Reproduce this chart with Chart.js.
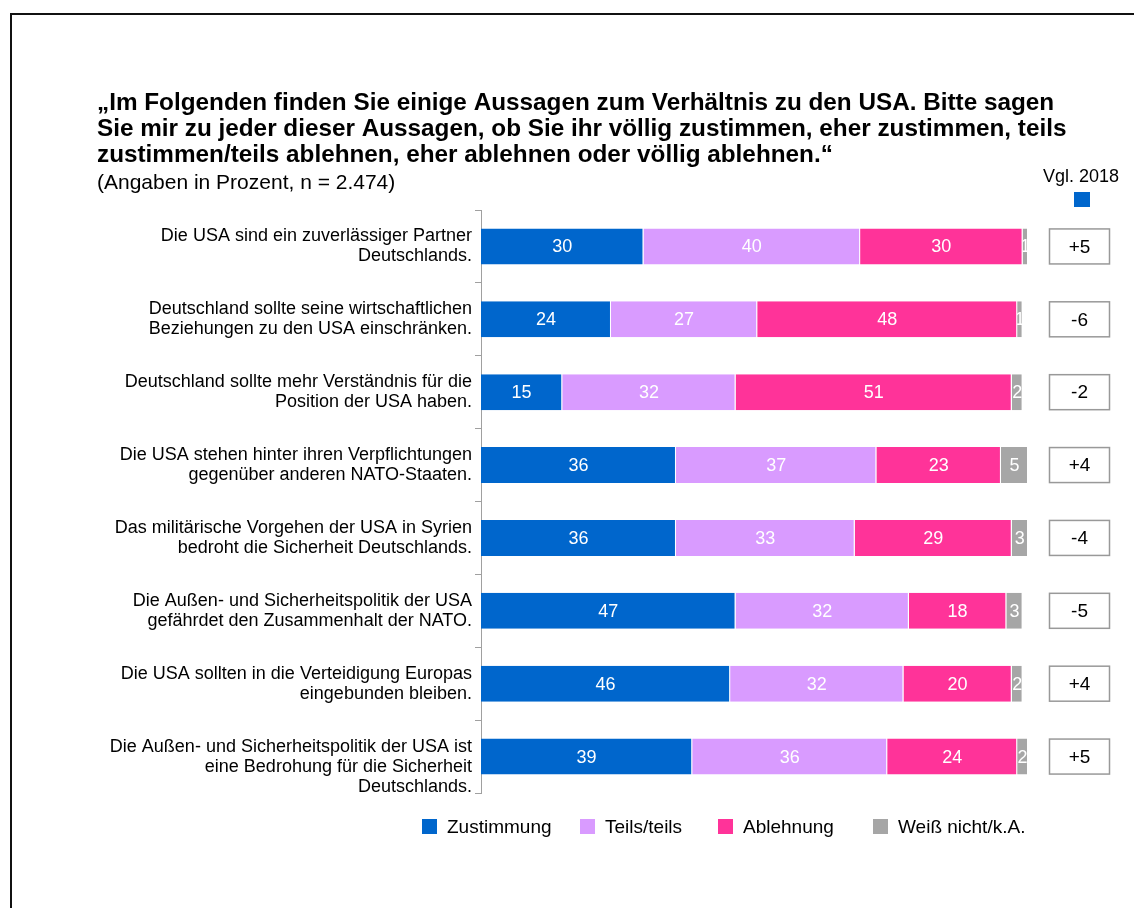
<!DOCTYPE html>
<html><head><meta charset="utf-8">
<script src="https://cdn.jsdelivr.net/npm/chart.js@4/dist/chart.umd.min.js"></script>
<style>html,body{margin:0;padding:0;background:#fff;overflow:hidden}canvas{display:block}</style>
</head><body>
<canvas id="c" width="1134" height="908"></canvas>
<script>
const categories = [
  ["Die USA sind ein zuverlässiger Partner", "Deutschlands."],
  ["Deutschland sollte seine wirtschaftlichen", "Beziehungen zu den USA einschränken."],
  ["Deutschland sollte mehr Verständnis für die", "Position der USA haben."],
  ["Die USA stehen hinter ihren Verpflichtungen", "gegenüber anderen NATO-Staaten."],
  ["Das militärische Vorgehen der USA in Syrien", "bedroht die Sicherheit Deutschlands."],
  ["Die Außen- und Sicherheitspolitik der USA", "gefährdet den Zusammenhalt der NATO."],
  ["Die USA sollten in die Verteidigung Europas", "eingebunden bleiben."],
  ["", "Die Außen- und Sicherheitspolitik der USA ist", "eine Bedrohung für die Sicherheit", "Deutschlands."]
];
const zustimmung = [30, 24, 15, 36, 36, 47, 46, 39];
const teilsTeils = [40, 27, 32, 37, 33, 32, 32, 36];
const ablehnung  = [30, 48, 51, 23, 29, 18, 20, 24];
const weissNicht = [1, 1, 2, 5, 3, 3, 2, 2];
const vgl2018 = ["+5", "-6", "-2", "+4", "-4", "-5", "+4", "+5"];
const seriesNames = ["Zustimmung", "Teils/teils", "Ablehnung", "Weiß nicht/k.A."];
const seriesColors = ["#0066CC", "#D99BFF", "#FF3399", "#A6A6A6"];
const titleLines = [
  "„Im Folgenden finden Sie einige Aussagen zum Verhältnis zu den USA. Bitte sagen",
  "Sie mir zu jeder dieser Aussagen, ob Sie ihr völlig zustimmen, eher zustimmen, teils",
  "zustimmen/teils ablehnen, eher ablehnen oder völlig ablehnen.“"
];
const subtitle = "(Angaben in Prozent, n = 2.474)";
const vglHeader = "Vgl. 2018";

const FONT = "'Liberation Sans', Arial, sans-serif";
const legendItemX = [422, 580, 718, 873];

const decor = {
  id: 'decor',
  beforeDraw(chart) {
    const ctx = chart.ctx;
    ctx.save();
    ctx.fillStyle = '#fff';
    ctx.fillRect(0, 0, chart.width, chart.height);
    ctx.fillStyle = '#111';
    ctx.fillRect(10, 13, 2, chart.height - 13);
    ctx.fillRect(10, 13, chart.width - 10, 2);
    // title
    ctx.fillStyle = '#000';
    ctx.textBaseline = 'alphabetic';
    ctx.textAlign = 'left';
    ctx.font = `bold 24.3px ${FONT}`;
    titleLines.forEach((t, i) => ctx.fillText(t, 97, 110 + i * 26));
    ctx.font = `21px ${FONT}`;
    ctx.fillText(subtitle, 97, 189);
    ctx.restore();
  },
  afterDatasetsDraw(chart) {
    const ctx = chart.ctx;
    ctx.save();
    ctx.font = `18px ${FONT}`;
    ctx.textAlign = 'center';
    ctx.textBaseline = 'middle';
    chart.data.datasets.forEach((ds, di) => {
      const meta = chart.getDatasetMeta(di);
      meta.data.forEach((el, i) => {
        const p = el.getProps(['x', 'y', 'base', 'height'], true);
        const l = Math.min(p.x, p.base), r = Math.max(p.x, p.base);
        ctx.save();
        ctx.beginPath();
        ctx.rect(l, p.y - p.height / 2, r - l, p.height);
        ctx.clip();
        ctx.fillStyle = '#fff';
        ctx.fillText(String(ds.data[i]), (l + r) / 2, p.y + 1);
        ctx.restore();
      });
    });
    // comparison boxes
    const ys = chart.scales.y;
    const meta0 = chart.getDatasetMeta(0);
    ctx.font = `19px ${FONT}`;
    vgl2018.forEach((v, i) => {
      const y = ys.getPixelForValue(i);
      const h = meta0.data[i].getProps(['height'], true).height;
      ctx.fillStyle = '#fff';
      ctx.fillRect(1049, y - h / 2, 61, h);
      ctx.strokeStyle = '#999';
      ctx.lineWidth = 1.5;
      ctx.strokeRect(1049.5, y - h / 2 + 0.5, 60, h - 1);
      ctx.fillStyle = '#000';
      ctx.fillText(v, 1079.5, y + 1);
    });
    ctx.font = `18px ${FONT}`;
    ctx.fillText(vglHeader, 1081, 177);
    ctx.fillStyle = seriesColors[0];
    ctx.fillRect(1074, 192, 16, 15);
    // legend
    ctx.font = `19px ${FONT}`;
    ctx.textAlign = 'left';
    seriesNames.forEach((n, i) => {
      const x = legendItemX[i];
      ctx.fillStyle = seriesColors[i];
      ctx.fillRect(x, 819, 15, 15);
      ctx.fillStyle = '#000';
      ctx.fillText(n, x + 25, 828);
    });
    ctx.restore();
  }
};

const mk = (label, data, i) => ({
  label, data,
  backgroundColor: seriesColors[i],
  borderColor: '#fff',
  borderWidth: {left: 0, right: 1, top: 0, bottom: 0},
  borderSkipped: false,
  barPercentage: 0.494,
  categoryPercentage: 1
});

new Chart(document.getElementById('c'), {
  type: 'bar',
  data: {
    labels: categories,
    datasets: [
      mk(seriesNames[0], zustimmung, 0),
      mk(seriesNames[1], teilsTeils, 1),
      mk(seriesNames[2], ablehnung, 2),
      mk(seriesNames[3], weissNicht, 3)
    ]
  },
  options: {
    indexAxis: 'y',
    responsive: false,
    animation: false,
    events: [],
    layout: {padding: {left: 0, right: 106, top: 210, bottom: 115}},
    plugins: {legend: {display: false}, title: {display: false}, tooltip: {enabled: false}},
    scales: {
      x: {stacked: true, min: 0, max: 101, display: false},
      y: {
        stacked: true,
        offset: true,
        afterFit(s) { s.width = 481; },
        grid: {offset: true, drawOnChartArea: false, drawTicks: true, tickLength: 6, color: '#A0A0A0'},
        border: {display: true, color: '#A0A0A0', width: 1},
        ticks: {
          color: '#000', padding: 3, autoSkip: false,
          font: {family: FONT, size: 18, lineHeight: 1.11}
        }
      }
    }
  },
  plugins: [decor]
});
</script>
</body></html>
